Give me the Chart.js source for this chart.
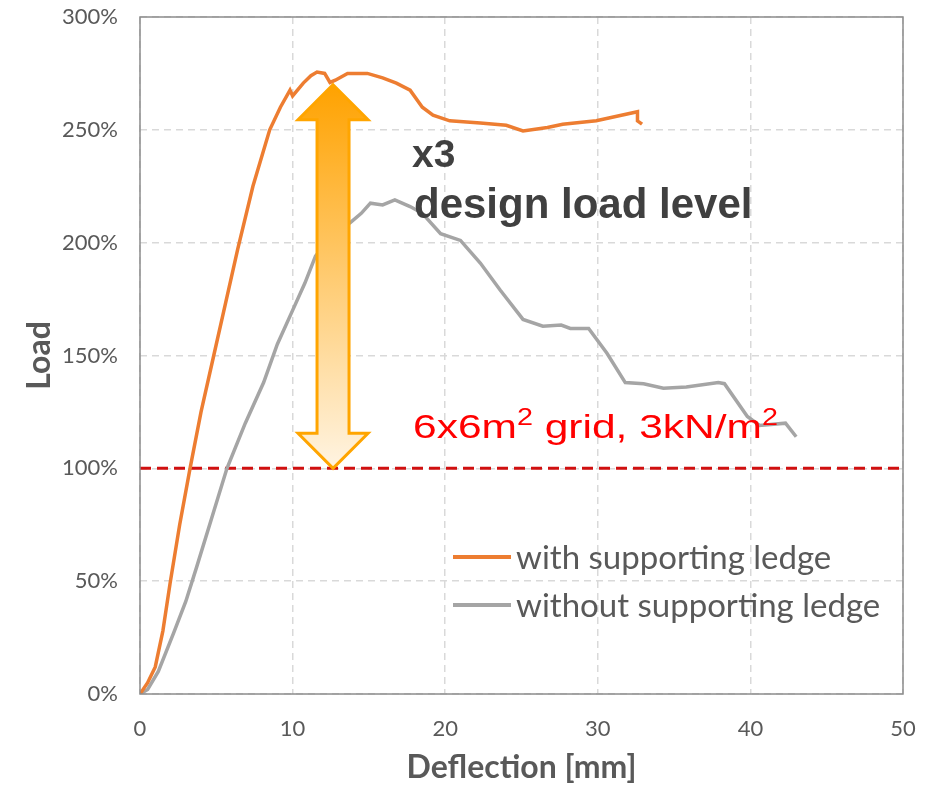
<!DOCTYPE html>
<html>
<head>
<meta charset="utf-8">
<script src="https://cdn.jsdelivr.net/npm/chart.js@4"></script>
<style>
  body { margin: 0; background: #fff; }
  canvas { display: block; }
</style>
</head>
<body>
<canvas id="myChart" width="940" height="787"></canvas>
<script>
// deflection [mm] / load [%]
const ledgeX = [0, 0.5, 1.0, 1.5, 1.97, 2.6, 3.28, 4.0, 4.8, 5.6, 6.4, 7.4, 8.5, 9.2, 9.83, 10.0, 10.7, 11.2, 11.6, 12.1, 12.45, 12.8, 13.6, 14.9, 15.9, 16.8, 17.7, 18.5, 19.2, 20.3, 22.3, 24.0, 25.1, 26.7, 27.7, 29.9, 32.6, 32.6, 32.9];
const ledgeY = [0, 5, 12, 28, 49, 75, 100, 125, 149, 173, 197, 225, 250, 260, 267.6, 265, 270.7, 274, 275.6, 275, 271, 272, 275, 275, 273, 270.7, 267.6, 260, 256.5, 254, 253, 252, 249.5, 251, 252.5, 254, 258, 254, 252.5];

const noLedgeX = [0, 0.5, 1.2, 2.2, 3.0, 3.7, 4.7, 5.7, 6.9, 8.1, 9.0, 10.0, 10.8, 11.5, 12.6, 13.8, 14.5, 15.1, 15.9, 16.7, 17.7, 18.5, 19.7, 21.0, 22.3, 23.6, 25.1, 26.4, 27.6, 28.2, 29.4, 30.6, 31.8, 33.0, 34.3, 35.8, 37.9, 38.3, 39.8, 40.6, 42.3, 43.0];
const noLedgeY = [0, 2, 10, 27, 41, 56, 78, 100, 120, 138, 155, 170, 182, 194, 203, 209, 213, 217.5, 216.7, 219, 216, 213, 204, 201, 191, 179, 166, 163, 163.5, 162, 162, 151, 138, 137.5, 135.5, 136, 138, 137.5, 123, 119, 120, 114];

const designLoad = 100;
const arrowX = 12.65;
const arrowTop = 270;

const xTicks = [0, 10, 20, 30, 40, 50];
const yTicks = [0, 50, 100, 150, 200, 250, 300];

const seriesNames = ["with supporting ledge", "without supporting ledge"];
const seriesColors = ["#ED7D31", "#A5A5A5"];

function toPoints(xs, ys) {
  return xs.map((x, i) => ({ x: x, y: ys[i] }));
}

const extras = {
  id: "extras",
  afterDatasetsDraw: (chart) => {
    const { ctx, chartArea } = chart;
    const xs = chart.scales.x;
    const ys = chart.scales.y;

    // frame
    ctx.save();
    ctx.strokeStyle = "#8C8C8C";
    ctx.lineWidth = 1.5;
    ctx.strokeRect(chartArea.left, chartArea.top, chartArea.right - chartArea.left, chartArea.bottom - chartArea.top);
    ctx.restore();

    // double arrow
    const cx = xs.getPixelForValue(arrowX);
    const yT = ys.getPixelForValue(arrowTop);
    const yB = ys.getPixelForValue(designLoad);
    const hw = 35, hh = 35, sw = 16;
    ctx.save();
    ctx.beginPath();
    ctx.moveTo(cx, yT);
    ctx.lineTo(cx + hw, yT + hh);
    ctx.lineTo(cx + sw, yT + hh);
    ctx.lineTo(cx + sw, yB - hh);
    ctx.lineTo(cx + hw, yB - hh);
    ctx.lineTo(cx, yB);
    ctx.lineTo(cx - hw, yB - hh);
    ctx.lineTo(cx - sw, yB - hh);
    ctx.lineTo(cx - sw, yT + hh);
    ctx.lineTo(cx - hw, yT + hh);
    ctx.closePath();
    const grad = ctx.createLinearGradient(0, yT, 0, yB);
    grad.addColorStop(0, "#FFA200");
    grad.addColorStop(1, "#FFF4E2");
    ctx.fillStyle = grad;
    ctx.fill();
    ctx.strokeStyle = "#FFA500";
    ctx.lineWidth = 3;
    ctx.stroke();
    ctx.restore();

    // annotation texts
    ctx.save();
    ctx.fillStyle = "#404040";
    ctx.textBaseline = "alphabetic";
    ctx.font = "bold 39px 'Liberation Sans', Arial, sans-serif";
    ctx.fillText("x3", 412, 167);
    ctx.font = "bold 42px 'Liberation Sans', Arial, sans-serif";
    ctx.fillText("design load level", 414, 218);

    ctx.fillStyle = "#FF0000";
    ctx.translate(413, 438);
    ctx.scale(1.25, 1);
    const big = "34px 'Liberation Sans', Arial, sans-serif";
    const small = "23px 'Liberation Sans', Arial, sans-serif";
    const parts = [["6x6m", big, 0], ["2", small, -13], [" grid, 3kN/m", big, 0], ["2", small, -13]];
    let px = 0;
    parts.forEach((p) => {
      ctx.font = p[1];
      ctx.fillText(p[0], px, p[2]);
      px += ctx.measureText(p[0]).width;
    });
    ctx.restore();

    // legend
    ctx.save();
    ctx.font = "33px Lato, sans-serif";
    ctx.textBaseline = "middle";
    seriesNames.forEach((name, i) => {
      const ly = 557 + i * 48;
      ctx.strokeStyle = seriesColors[i];
      ctx.lineWidth = 4;
      ctx.beginPath();
      ctx.moveTo(453, ly);
      ctx.lineTo(511, ly);
      ctx.stroke();
      ctx.fillStyle = "#595959";
      ctx.fillText(name, 516, ly + 1);
    });
    ctx.restore();
  },
};

new Chart("myChart", {
  type: "line",
  data: {
    datasets: [
      {
        label: seriesNames[0],
        data: toPoints(ledgeX, ledgeY),
        borderColor: seriesColors[0],
        borderWidth: 3.5,
        pointRadius: 0,
        tension: 0,
      },
      {
        label: seriesNames[1],
        data: toPoints(noLedgeX, noLedgeY),
        borderColor: seriesColors[1],
        borderWidth: 3.5,
        pointRadius: 0,
        tension: 0,
      },
      {
        label: "design load",
        data: [{ x: xTicks[0], y: designLoad }, { x: xTicks[xTicks.length - 1], y: designLoad }],
        borderColor: "#D01010",
        borderWidth: 3,
        borderDash: [11, 6],
        pointRadius: 0,
      },
    ],
  },
  options: {
    responsive: false,
    animation: false,
    devicePixelRatio: 1,
    layout: { padding: { top: 17, right: 37, left: 0, bottom: 0 } },
    plugins: {
      legend: { display: false },
      tooltip: { enabled: false },
    },
    scales: {
      x: {
        type: "linear",
        min: 0,
        max: 50,
        afterFit: (scale) => {
          scale.height = 93;
          scale.paddingLeft = 0;
          scale.paddingRight = 0;
        },
        afterBuildTicks: (scale) => { scale.ticks = xTicks.map((v) => ({ value: v })); },
        ticks: {
          color: "#595959",
          font: { family: "Lato", size: 22 },
          padding: 22,
          maxRotation: 0,
        },
        grid: { color: "#D9D9D9", lineWidth: 1.5, drawTicks: false },
        border: { display: false, dash: [7, 5] },
        title: {
          display: true,
          text: "Deflection [mm]",
          color: "#595959",
          font: { family: "Lato", size: 32, weight: "bold" },
          padding: { top: 0, bottom: 0 },
        },
      },
      y: {
        type: "linear",
        min: 0,
        max: 300,
        afterFit: (scale) => {
          scale.width = 140;
          scale.paddingTop = 0;
          scale.paddingBottom = 0;
        },
        afterBuildTicks: (scale) => { scale.ticks = yTicks.map((v) => ({ value: v })); },
        ticks: {
          color: "#595959",
          font: { family: "Lato", size: 22 },
          padding: 22,
          callback: (v) => v + "%",
        },
        grid: { color: "#D9D9D9", lineWidth: 1.5, drawTicks: false },
        border: { display: false, dash: [7, 5] },
        title: {
          display: true,
          text: "Load",
          color: "#595959",
          font: { family: "Lato", size: 32, weight: "bold" },
          padding: { top: 20, bottom: 0 },
        },
      },
    },
  },
  plugins: [extras],
});
</script>
</body>
</html>
